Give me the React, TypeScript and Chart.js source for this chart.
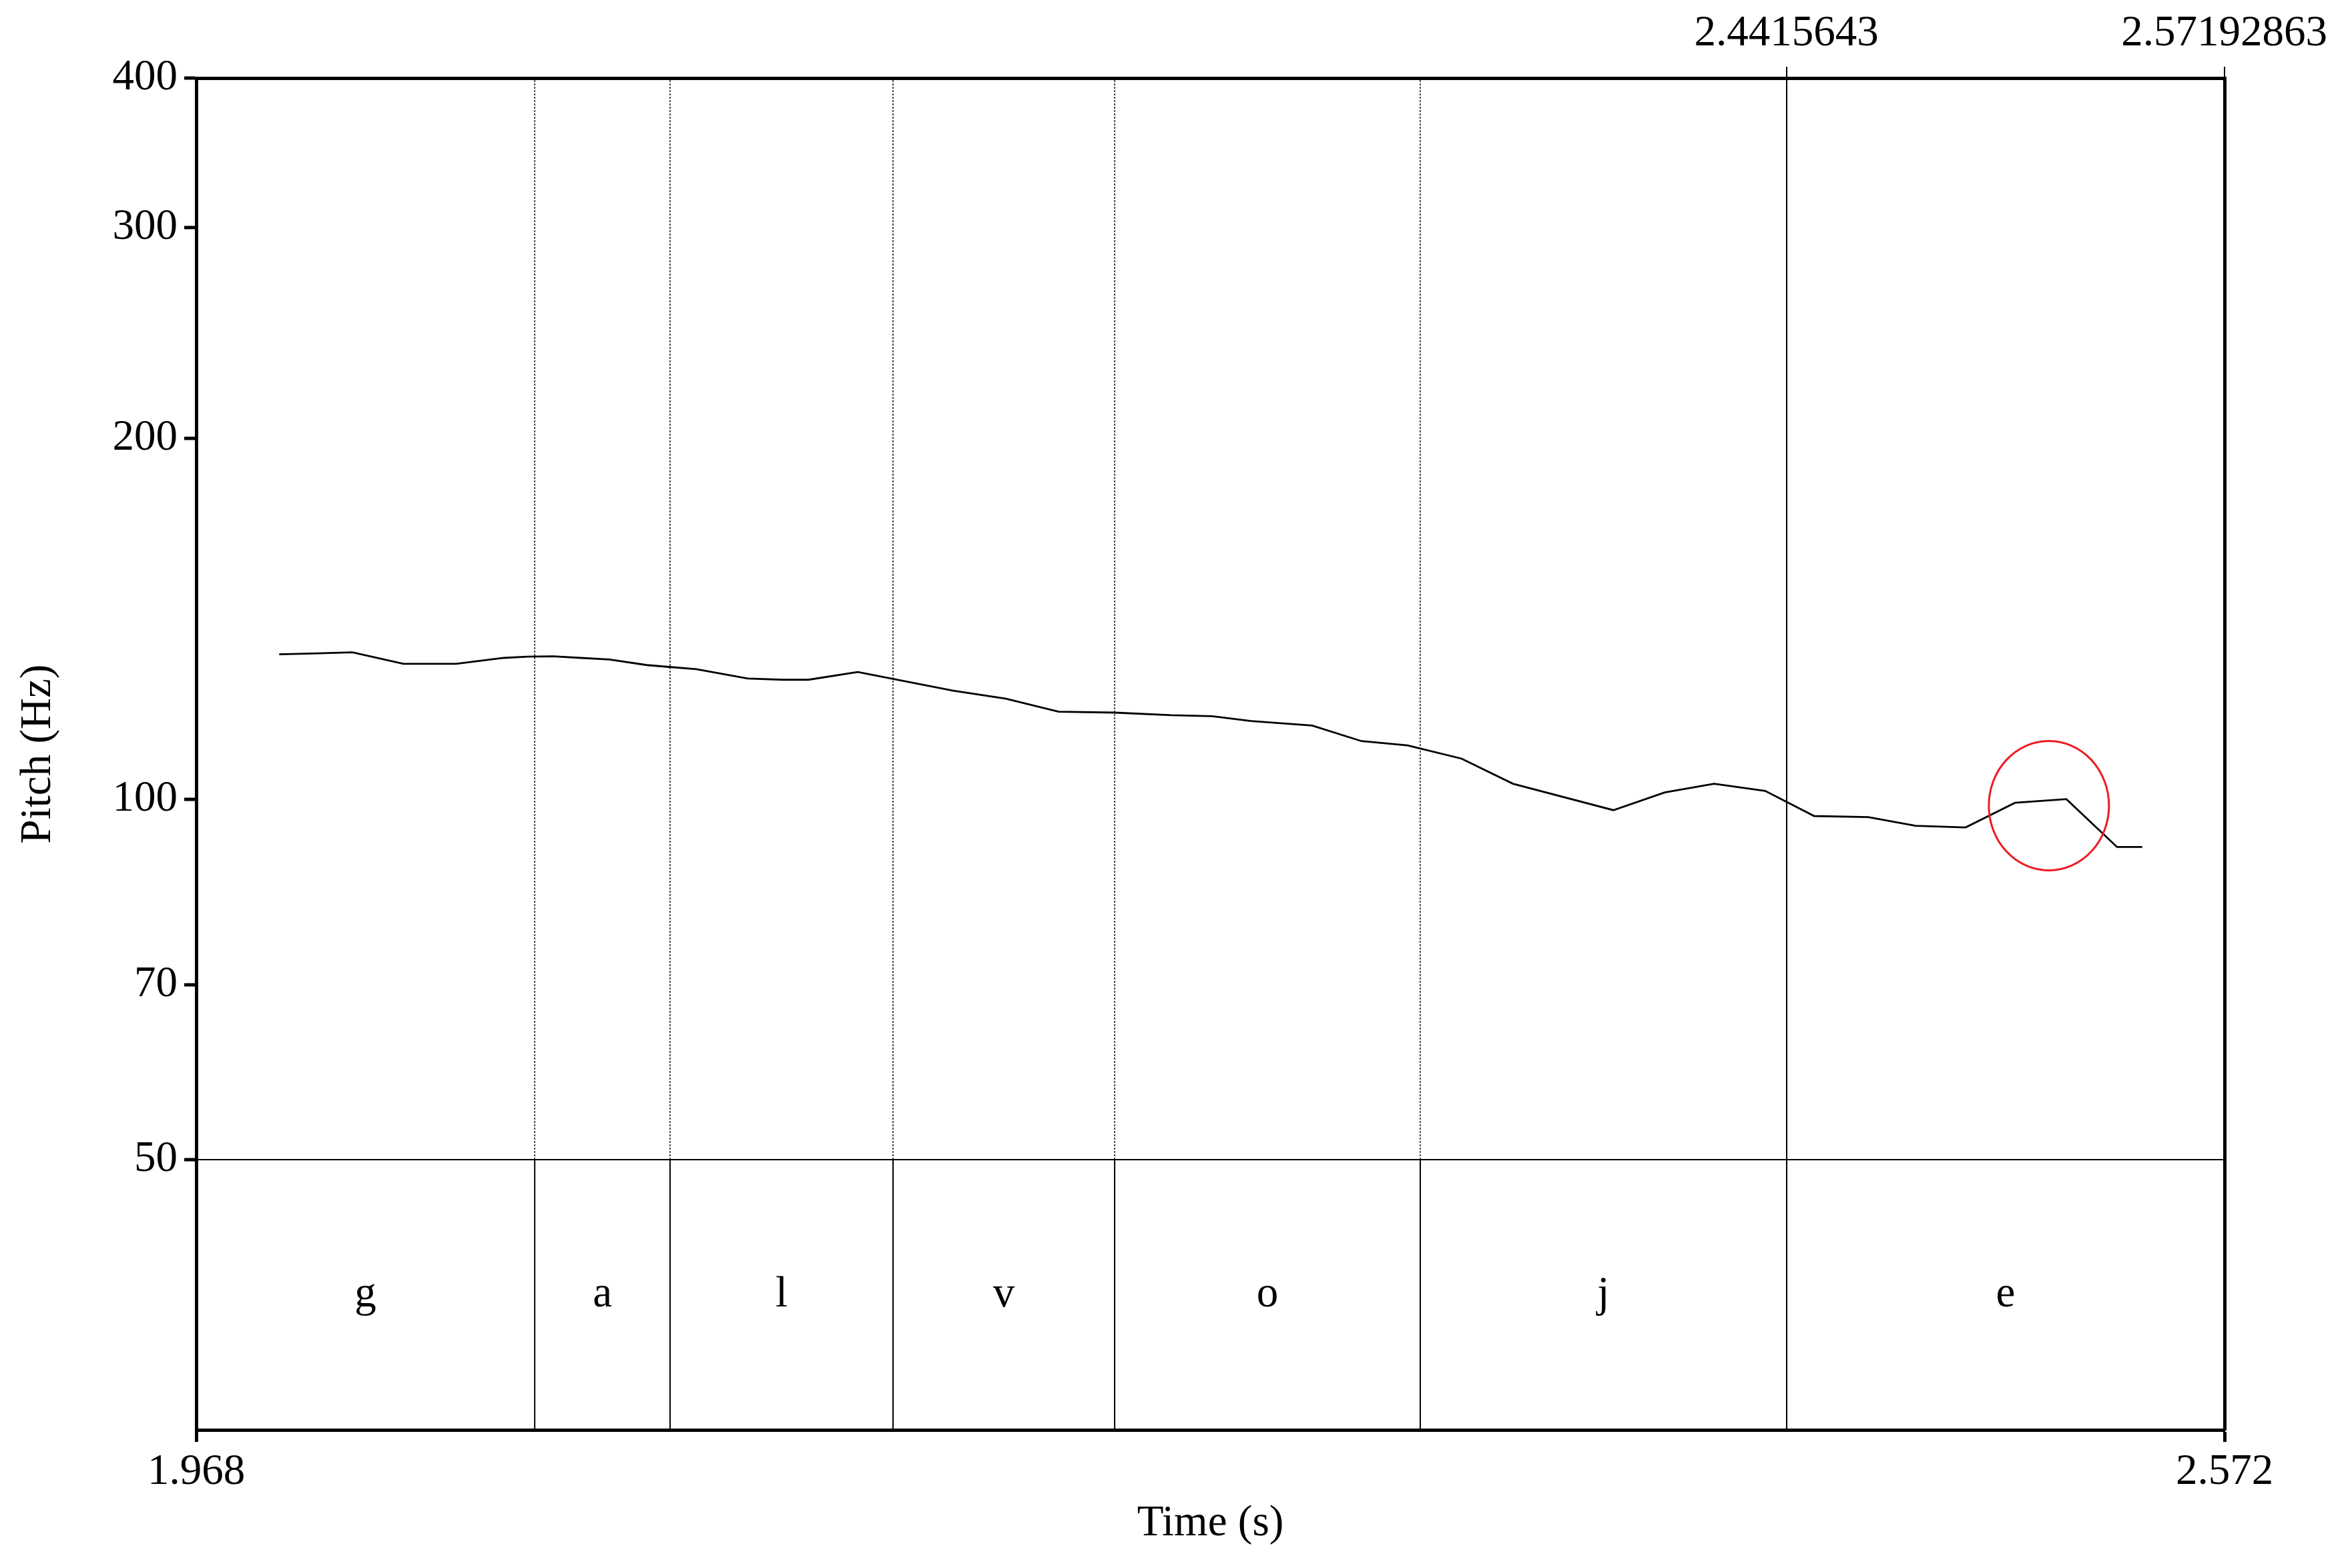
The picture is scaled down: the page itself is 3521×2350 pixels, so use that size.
import React, { useEffect, useRef } from 'react';
import { Chart, registerables } from 'chart.js';

Chart.register(...registerables);

// ---- data ----
const times = [
  1.9927, 2.0028, 2.0145, 2.0297, 2.0454, 2.0596, 2.0668, 2.0743, 2.0825, 2.0910,
  2.1022, 2.1093, 2.1169, 2.1322, 2.1427, 2.1503, 2.1650, 2.1934, 2.2091, 2.2248,
  2.2415, 2.2584, 2.2705, 2.2821, 2.3003, 2.3150, 2.3287, 2.3448, 2.3601, 2.3900,
  2.4053, 2.4200, 2.4352, 2.4498, 2.4659, 2.4800, 2.4949, 2.5096, 2.5249, 2.5400,
  2.5475,
];
const pitchHz = [
  132.1, 132.3, 132.6, 129.7, 129.7, 131.2, 131.5, 131.6, 131.2, 130.8,
  129.4, 128.9, 128.4, 126.1, 125.8, 125.8, 127.7, 123.2, 121.3, 118.3,
  118.1, 117.5, 117.3, 116.2, 115.2, 111.8, 110.9, 108.1, 103.0, 97.9,
  101.3, 103.0, 101.6, 96.8, 96.6, 95.0, 94.7, 99.3, 100.0, 91.2,
  91.2,
];
const boundaries = [2.0688, 2.1091, 2.1755, 2.2415, 2.3325, 2.4415643];
const segmentLabels = ['g', 'a', 'l', 'v', 'o', 'j', 'e'];
const xTickValues = [1.968, 2.572];
const topTickValues = [2.4415643, 2.57192863];
const yTickValues = [50, 70, 100, 200, 300, 400];
const markerTime = [2.5197];
const markerPitch = [98.75];

const W = 3521;
const H = 2350;
const FONT = '"Liberation Serif", "Times New Roman", Times, serif';
const FS = 65;

export default function App() {
  const ref = useRef<HTMLCanvasElement>(null);

  useEffect(() => {
    const canvas = ref.current;
    if (!canvas) return;

    const tierPlugin = {
      id: 'tierAndMarker',
      afterDatasetsDraw(chart: any) {
        const { ctx, scales } = chart;
        const xs = scales.x;
        const yt = scales.yTier;
        const yp = scales.y;
        const edges = [xs.min, ...boundaries, xs.max];
        ctx.save();
        ctx.font = `${FS}px ${FONT}`;
        ctx.fillStyle = '#000';
        ctx.textAlign = 'center';
        ctx.textBaseline = 'middle';
        const cy = (yt.top + yt.bottom) / 2;
        segmentLabels.forEach((lab, i) => {
          const cx = (xs.getPixelForValue(edges[i]) + xs.getPixelForValue(edges[i + 1])) / 2;
          ctx.fillText(lab, cx, cy);
        });
        markerTime.forEach((t, i) => {
          ctx.beginPath();
          ctx.ellipse(xs.getPixelForValue(t), yp.getPixelForValue(markerPitch[i]), 90, 97, 0, 0, Math.PI * 2);
          ctx.strokeStyle = 'rgb(237,28,36)';
          ctx.lineWidth = 3;
          ctx.stroke();
        });
        ctx.restore();
      },
    };

    const dashedBounds = boundaries.filter((b) => !topTickValues.includes(b));
    const pitchData = times.map((t, i) => ({ x: t, y: pitchHz[i] }));
    const dashedData = dashedBounds.flatMap((b) => [
      { x: b, y: 50 },
      { x: b, y: 400 },
      { x: b, y: null },
    ]);
    const tierData = dashedBounds.flatMap((b) => [
      { x: b, y: 0 },
      { x: b, y: 1 },
      { x: b, y: null },
    ]);

    const tickFont = { size: FS, family: FONT };

    const chart = new Chart(canvas, {
      type: 'line',
      data: {
        datasets: [
          {
            data: pitchData as any,
            xAxisID: 'x',
            yAxisID: 'y',
            borderColor: '#000',
            borderWidth: 2.8,
            pointRadius: 0,
            tension: 0,
          },
          {
            data: dashedData as any,
            xAxisID: 'x',
            yAxisID: 'y',
            borderColor: '#000',
            borderWidth: 1.4,
            borderDash: [3, 2],
            pointRadius: 0,
            spanGaps: false,
          },
          {
            data: tierData as any,
            xAxisID: 'x',
            yAxisID: 'yTier',
            borderColor: '#000',
            borderWidth: 2,
            pointRadius: 0,
            spanGaps: false,
          },
        ],
      },
      options: {
        animation: false,
        responsive: false,
        devicePixelRatio: 1,
        events: [],
        layout: { padding: 0 },
        plugins: {
          legend: { display: false },
          tooltip: { enabled: false },
        },
        scales: {
          x: {
            type: 'linear',
            position: 'bottom',
            min: 1.968,
            max: 2.572,
            bounds: 'data',
            afterBuildTicks: (s: any) => {
              s.ticks = xTickValues.map((v) => ({ value: v }));
            },
            afterFit: (s: any) => {
              s.height = 207;
            },
            ticks: {
              autoSkip: false,
              maxRotation: 0,
              minRotation: 0,
              padding: 7,
              color: '#000',
              font: tickFont,
              callback: (v: any) => String(v),
            },
            grid: {
              display: true,
              drawOnChartArea: false,
              drawTicks: true,
              tickLength: 18,
              tickWidth: 5,
              tickColor: '#000',
              color: '#000',
            },
            border: { display: true, width: 5, color: '#000' },
            title: {
              display: true,
              text: 'Time (s)',
              color: '#000',
              font: tickFont,
              padding: { top: 0, bottom: 27 },
            },
          },
          xTop: {
            type: 'linear',
            position: 'top',
            min: 1.968,
            max: 2.572,
            bounds: 'data',
            afterBuildTicks: (s: any) => {
              s.ticks = topTickValues.map((v) => ({ value: v }));
            },
            afterFit: (s: any) => {
              s.height = 117;
            },
            ticks: {
              autoSkip: false,
              maxRotation: 0,
              minRotation: 0,
              padding: 10,
              color: '#000',
              font: tickFont,
              callback: (v: any) => String(v),
            },
            grid: {
              display: true,
              drawOnChartArea: true,
              drawTicks: true,
              color: '#000',
              lineWidth: 2,
              tickLength: 17,
              tickWidth: 2,
              tickColor: '#000',
            },
            border: { display: true, width: 5, color: '#000' },
          },
          yTitle: {
            type: 'linear',
            position: 'left',
            weight: 10,
            display: true,
            afterFit: (s: any) => {
              s.width = 100;
            },
            ticks: { display: false },
            grid: { display: false, drawTicks: false },
            border: { display: false },
            title: {
              display: true,
              text: 'Pitch (Hz)',
              color: '#000',
              font: tickFont,
              padding: { top: 19, bottom: 0 },
            },
          },
          y: {
            type: 'logarithmic',
            position: 'left',
            stack: 'left',
            stackWeight: 1621,
            weight: 1,
            min: 50,
            max: 400,
            afterBuildTicks: (s: any) => {
              s.ticks = yTickValues.map((v) => ({ value: v }));
            },
            afterFit: (s: any) => {
              s.width = 194;
            },
            ticks: {
              autoSkip: false,
              padding: 10,
              color: '#000',
              font: tickFont,
              callback: (v: any) => String(v),
            },
            grid: {
              display: true,
              drawOnChartArea: true,
              drawTicks: true,
              color: '#000',
              lineWidth: (c: any) => (c.tick && c.tick.value === 50 ? 2 : 0),
              tickLength: 18,
              tickWidth: 5,
              tickColor: '#000',
            },
            border: { display: true, width: 5, color: '#000' },
          },
          yTier: {
            type: 'linear',
            position: 'left',
            stack: 'left',
            stackWeight: 405,
            weight: 0,
            min: 0,
            max: 1,
            afterFit: (s: any) => {
              s.width = 194;
            },
            ticks: { display: false },
            grid: { display: false, drawTicks: false },
            border: { display: true, width: 5, color: '#000' },
          },
          yRight: {
            type: 'linear',
            position: 'right',
            display: true,
            afterFit: (s: any) => {
              s.width = 188;
            },
            ticks: { display: false },
            grid: { display: false, drawTicks: false },
            border: { display: true, width: 5, color: '#000' },
          },
        },
      } as any,
      plugins: [tierPlugin],
    });

    return () => {
      chart.destroy();
    };
  }, []);

  return (
    <div style={{ position: 'fixed', left: 0, top: 0, width: W, height: H, background: '#fff' }}>
      <canvas ref={ref} width={W} height={H} style={{ display: 'block', width: W, height: H }} />
    </div>
  );
}
